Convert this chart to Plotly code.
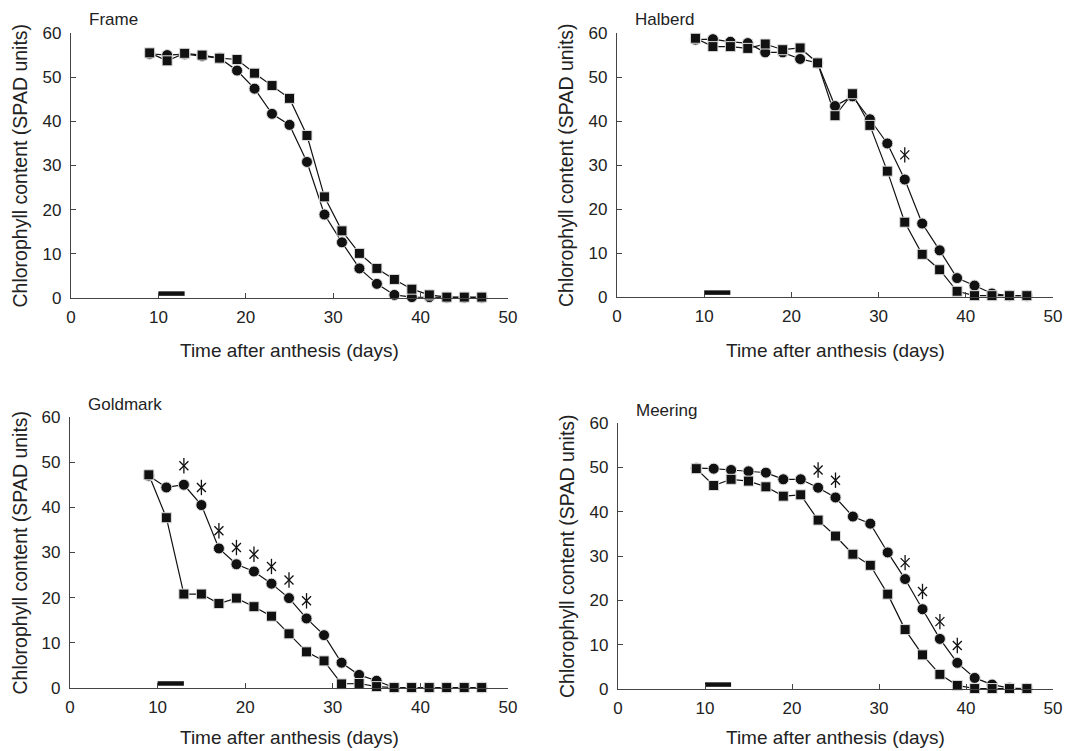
import plotly.graph_objects as go

W, H = 1067, 751

days = [9, 11, 13, 15, 17, 19, 21, 23, 25, 27, 29, 31, 33, 35, 37, 39, 41, 43, 45, 47]

frame_circ = [55.3, 55.0, 55.2, 54.8, 54.3, 51.5, 47.4, 41.7, 39.2, 30.8, 18.9, 12.6, 6.7, 3.2, 0.7, 0.2, 0.2, 0.1, 0.1, 0.1]
frame_sq = [55.5, 53.7, 55.4, 55.0, 54.3, 54.0, 50.9, 48.1, 45.2, 36.8, 22.9, 15.2, 10.1, 6.7, 4.2, 2.0, 0.7, 0.2, 0.2, 0.2]
frame_star_x = []
frame_star_y = []

halberd_circ = [58.5, 58.6, 58.0, 57.7, 55.6, 55.6, 54.1, 53.2, 43.4, 45.6, 40.4, 34.9, 26.7, 16.7, 10.6, 4.3, 2.6, 0.8, 0.3, 0.3]
halberd_sq = [58.8, 56.9, 56.9, 56.5, 57.5, 56.2, 56.6, 53.2, 41.2, 46.2, 39.0, 28.6, 17.0, 9.7, 6.2, 1.3, 0.3, 0.3, 0.3, 0.3]
halberd_star_x = [33]
halberd_star_y = [32.3]

goldmark_circ = [47.0, 44.4, 45.0, 40.5, 30.9, 27.4, 25.8, 23.1, 19.9, 15.4, 11.7, 5.6, 2.9, 1.6, 0.1, 0.1, 0.1, 0.1, 0.1, 0.1]
goldmark_sq = [47.2, 37.7, 20.8, 20.8, 18.7, 19.9, 18.0, 15.9, 12.0, 8.0, 6.0, 0.9, 1.0, 0.3, 0.1, 0.1, 0.1, 0.1, 0.1, 0.1]
goldmark_star_x = [13, 15, 17, 19, 21, 23, 25, 27]
goldmark_star_y = [49.2, 44.4, 34.8, 31.1, 29.6, 26.9, 23.9, 19.3]

meering_circ = [49.8, 49.7, 49.4, 49.1, 48.8, 47.3, 47.3, 45.4, 43.2, 38.9, 37.3, 30.8, 24.8, 18.0, 11.3, 5.9, 2.5, 1.0, 0.2, 0.1]
meering_sq = [49.7, 45.9, 47.3, 46.9, 45.6, 43.5, 43.8, 38.1, 34.5, 30.4, 27.9, 21.4, 13.4, 7.7, 3.3, 0.8, 0.1, 0.1, 0.1, 0.1]
meering_star_x = [23, 25, 33, 35, 37, 39]
meering_star_y = [49.4, 47.1, 28.5, 22.0, 15.2, 9.8]

bar_x = [10, 13]
bar_y = [1, 1]

x_ticks = [0, 10, 20, 30, 40, 50]
y_ticks = [0, 10, 20, 30, 40, 50, 60]

panels = [
    ("Frame", frame_circ, frame_sq, frame_star_x, frame_star_y),
    ("Halberd", halberd_circ, halberd_sq, halberd_star_x, halberd_star_y),
    ("Goldmark", goldmark_circ, goldmark_sq, goldmark_star_x, goldmark_star_y),
    ("Meering", meering_circ, meering_sq, meering_star_x, meering_star_y),
]

# pixel geometry of each panel: (x_left, x_right, y_top, y_bottom, x-title offset)
geo = [
    (71, 508, 33, 298, 53),
    (617, 1053, 33, 297, 53),
    (70, 508, 417, 688, 49),
    (618, 1053, 423, 689, 48),
]


def px(xw):
    return xw / W


def py(yw):
    return 1 - yw / H


INK = "#111111"
AX = "#444444"
TXT = "#222222"
FONT = "Liberation Sans, Arial, sans-serif"

fig = go.Figure()
layout = dict(
    template="none",
    width=W, height=H, autosize=False,
    margin=dict(l=0, r=0, t=0, b=0, pad=0, autoexpand=False),
    paper_bgcolor="white", plot_bgcolor="white",
    showlegend=False,
    font=dict(family=FONT, color=TXT),
)
annotations = []

for i, (name, circ, sq, sx, sy) in enumerate(panels):
    k = "" if i == 0 else str(i + 1)
    xa, ya = "x" + k, "y" + k
    xl, xr, yt, yb, toff = geo[i]
    fig.add_trace(go.Scatter(x=days, y=circ, xaxis=xa, yaxis=ya, mode="lines",
                             line=dict(color=INK, width=1.2), cliponaxis=False))
    fig.add_trace(go.Scatter(x=days, y=sq, xaxis=xa, yaxis=ya, mode="lines",
                             line=dict(color=INK, width=1.2), cliponaxis=False))
    fig.add_trace(go.Scatter(x=days, y=circ, xaxis=xa, yaxis=ya, mode="markers",
                             marker=dict(symbol="circle", size=11, color=INK,
                                         line=dict(color="#dddddd", width=1)),
                             cliponaxis=False))
    fig.add_trace(go.Scatter(x=days, y=sq, xaxis=xa, yaxis=ya, mode="markers",
                             marker=dict(symbol="square", size=10, color=INK,
                                         line=dict(color="#dddddd", width=1)),
                             cliponaxis=False))
    if sx:
        fig.add_trace(go.Scatter(x=sx, y=sy, xaxis=xa, yaxis=ya, mode="markers",
                                 marker=dict(symbol="x-thin-open", size=9, color=INK,
                                             line=dict(color=INK, width=1.3)),
                                 cliponaxis=False))
        fig.add_trace(go.Scatter(x=sx, y=sy, xaxis=xa, yaxis=ya, mode="markers",
                                 marker=dict(symbol="line-ns-open", size=11, color=INK,
                                             line=dict(color=INK, width=1.3)),
                                 cliponaxis=False))
    fig.add_trace(go.Scatter(x=bar_x, y=bar_y, xaxis=xa, yaxis=ya, mode="lines",
                             line=dict(color=INK, width=4.5), cliponaxis=False))

    xaxis = dict(
        domain=[px(xl), px(xr)], range=[0, 50], anchor=ya, automargin=False,
        tickvals=x_ticks, ticks="inside", ticklen=5, tickcolor=AX, tickwidth=1,
        showline=True, linecolor=AX, linewidth=1.2, showgrid=False, zeroline=False,
        tickfont=dict(size=17, color=TXT, family=FONT), fixedrange=True,
        ticklabelstandoff=3,
    )
    yaxis = dict(
        domain=[py(yb), py(yt)], range=[0, 60], anchor=xa, automargin=False,
        tickvals=y_ticks, ticks="inside", ticklen=5, tickcolor=AX, tickwidth=1,
        showline=True, linecolor=AX, linewidth=1.2, showgrid=False, zeroline=False,
        tickfont=dict(size=17, color=TXT, family=FONT), fixedrange=True,
        ticklabelstandoff=5,
    )
    layout["xaxis" + k] = xaxis
    layout["yaxis" + k] = yaxis

    annotations.append(dict(text=name, x=px(xl + 16), y=py(yt - 13),
                            xref="paper", yref="paper", xanchor="left", yanchor="middle",
                            showarrow=False, font=dict(size=17, color=TXT, family=FONT)))
    annotations.append(dict(text="Time after anthesis (days)", x=px((xl + xr) / 2),
                            y=py(yb + toff), xref="paper", yref="paper",
                            xanchor="center", yanchor="middle", showarrow=False,
                            borderpad=0,
                            font=dict(size=19, color=TXT, family=FONT)))
    annotations.append(dict(text="Chlorophyll content (SPAD units)", x=px(xl - 51),
                            y=py((yt + yb) / 2), xref="paper", yref="paper",
                            xanchor="center", yanchor="middle", textangle=-90,
                            showarrow=False, font=dict(size=19.5, color=TXT, family=FONT)))

layout["annotations"] = annotations
fig.update_layout(**layout)
fig.write_html("out.html")
